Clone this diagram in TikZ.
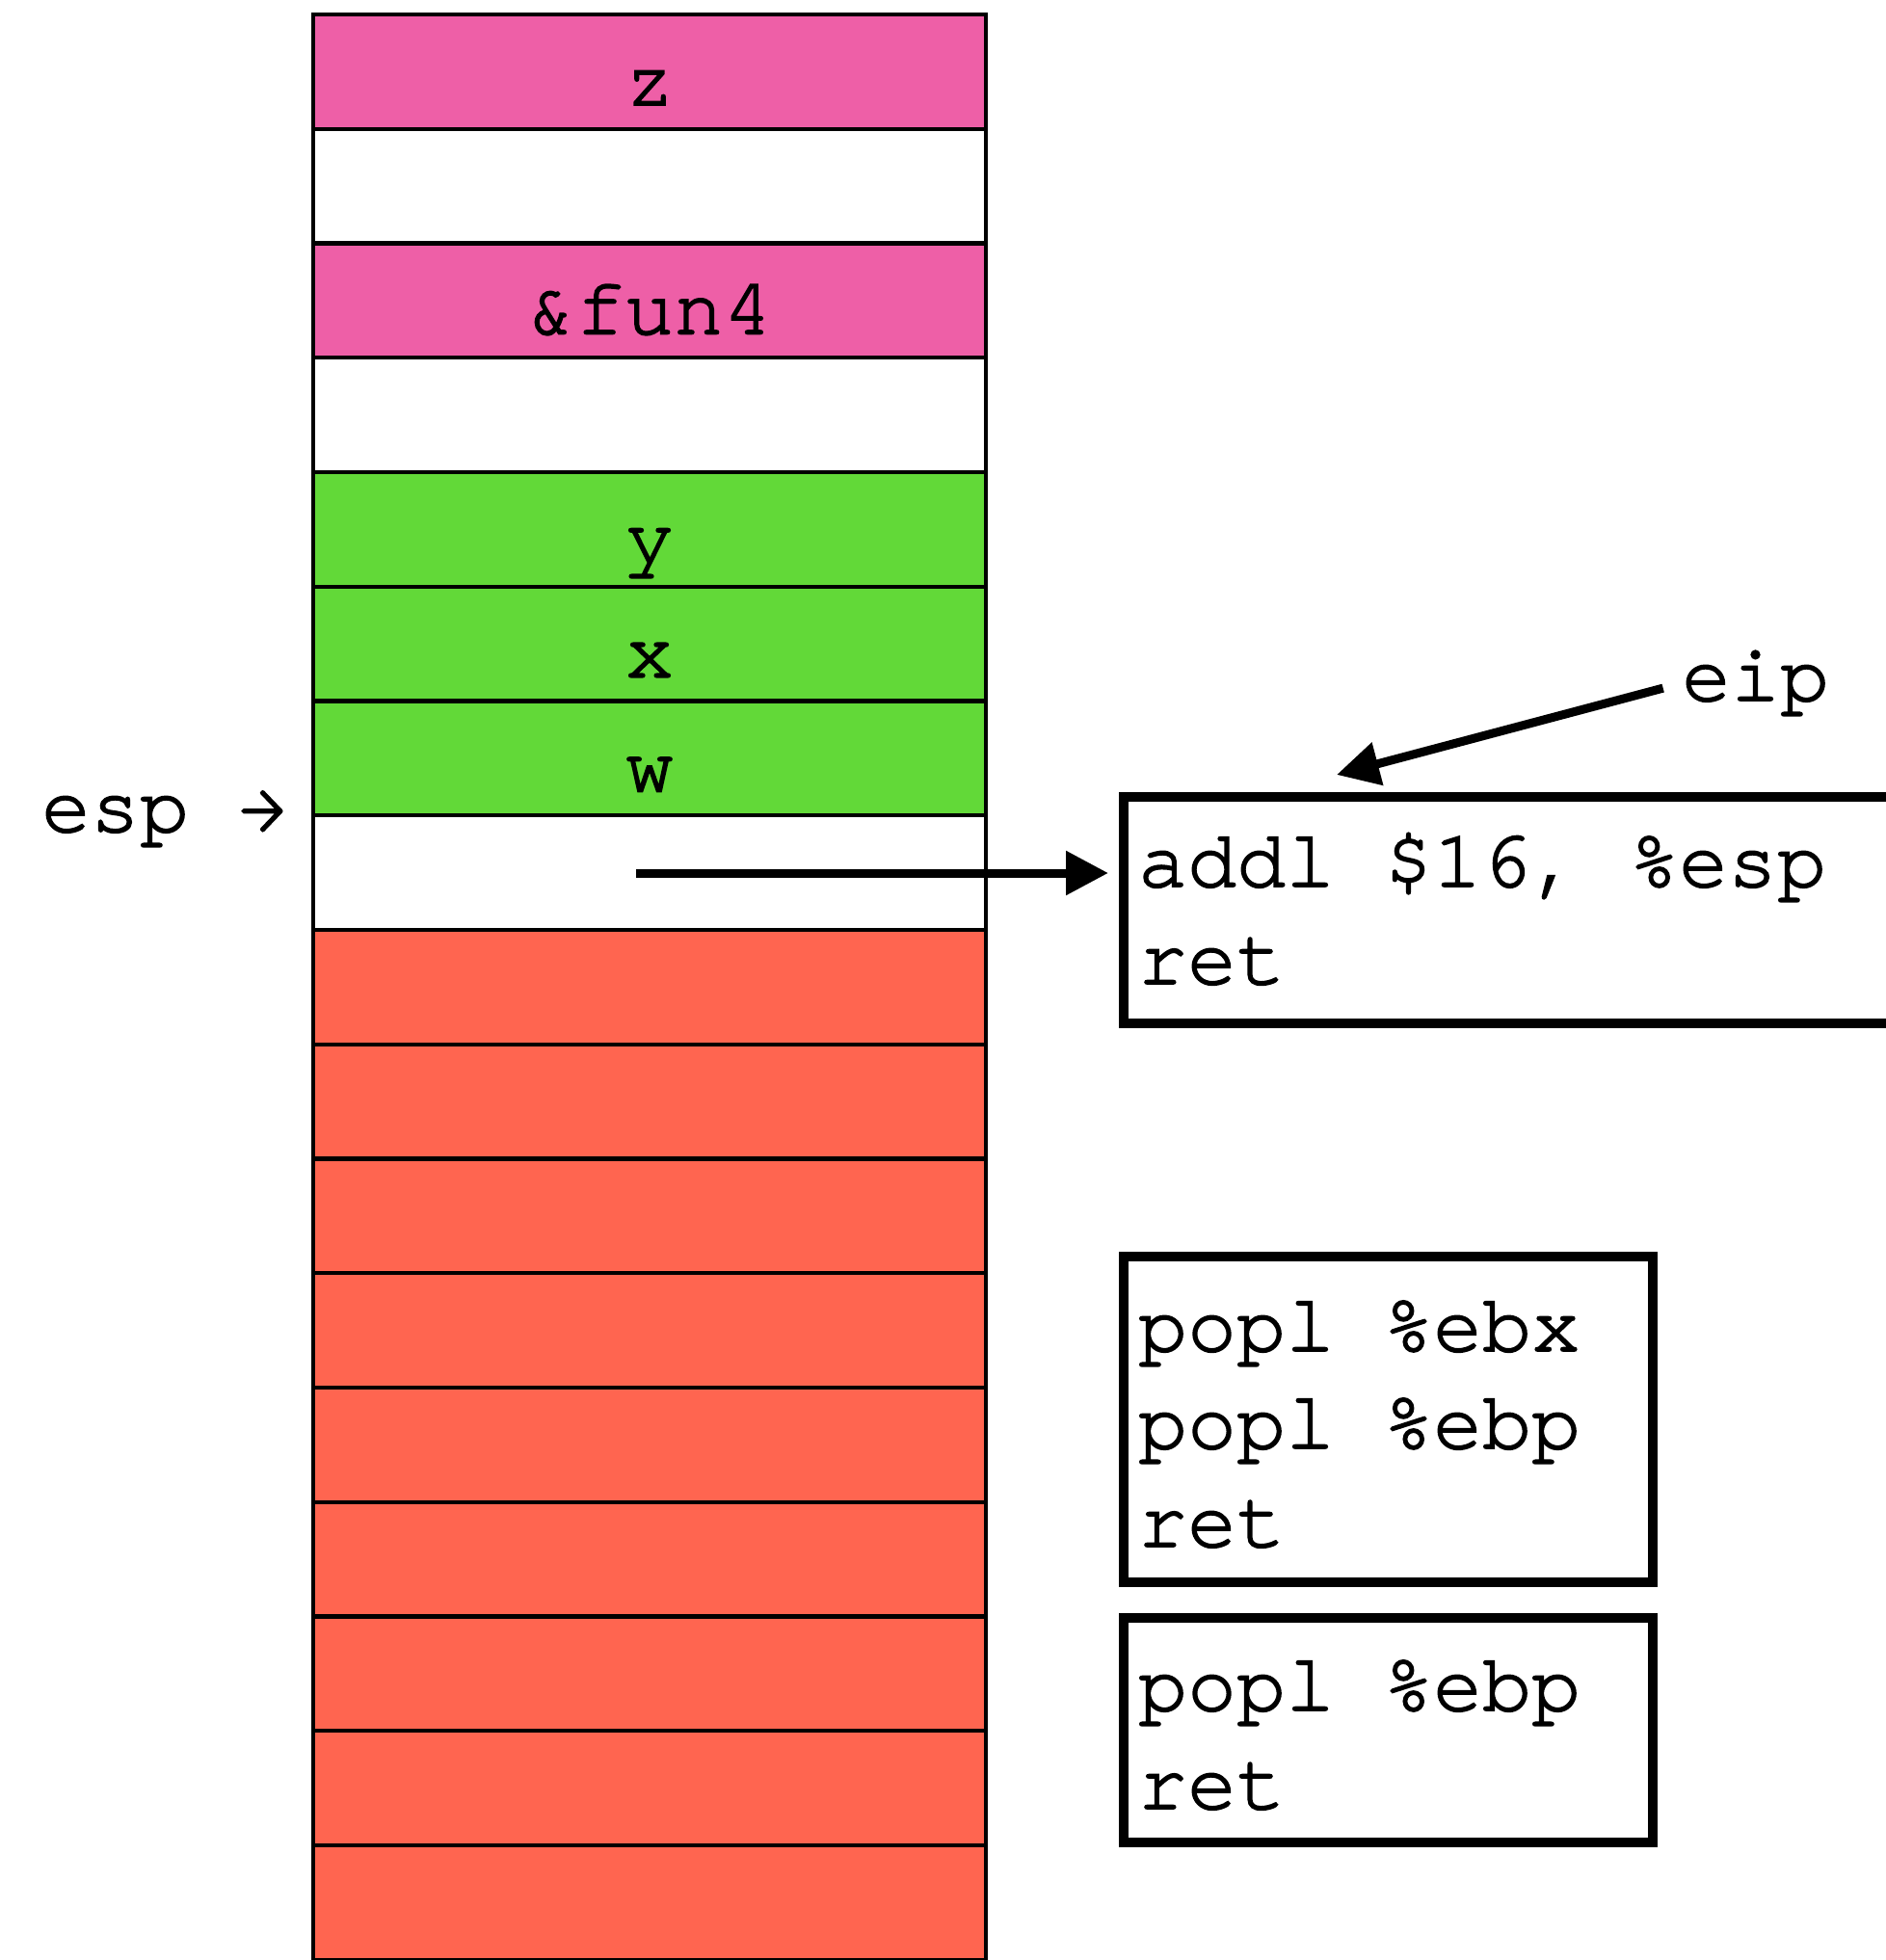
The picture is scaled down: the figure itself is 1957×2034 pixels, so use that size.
\documentclass[tikz,border=0pt]{standalone}
\usepackage{fontspec}
\setmonofont{TeX Gyre Cursor}[FakeBold=2]
\usetikzlibrary{arrows.meta}
\definecolor{slotpink}{HTML}{EE5FA7}
\definecolor{slotgreen}{HTML}{62D938}
\definecolor{slotred}{HTML}{FF6550}

\begin{document}
\begin{tikzpicture}[x=0.5pt,y=-0.5pt,
  slot/.style={draw=black, line width=2.2pt, minimum width=349pt, minimum height=59.375pt,
    inner sep=0pt, outer sep=0pt, anchor=north west},
  mono/.style={font=\ttfamily\fontsize{42.5}{51}\selectfont, inner sep=0pt, outer sep=0pt},
  slotlabel/.style={mono, anchor=base, yshift=-47pt},
  codeline/.style={mono, anchor=base west},
  codebox/.style={draw=black, line width=5pt, inner sep=0pt, outer sep=0pt, anchor=north west},
  pointer/.style={line width=4.5pt, -{Triangle[length=22pt,width=22pt]}},
]
\useasboundingbox (0,0) rectangle (1957,2034);

% stack slots, top to bottom
\foreach \c [count=\i from 0] in {slotpink,white,slotpink,white,slotgreen,slotgreen,slotgreen,white,
    slotred,slotred,slotred,slotred,slotred,slotred,slotred,slotred,slotred}
  \node[slot, fill=\c] (s\i) at (325,{15+118.75*\i}) {};

% slot contents
\node[slotlabel] (lz) at (s0.north) {z};
\node[slotlabel] (lfun) at (s2.north) {\&fun4};
\node[slotlabel] (ly) at (s4.north) {y};
\node[slotlabel] (lx) at (s5.north) {x};
\node[slotlabel] (lw) at (s6.north) {w};

% stack pointer
\node[codeline] (esp) at (43,863) {esp →};

% code fragments
\node[codebox, minimum width=450pt, minimum height=117.5pt] (boxA) at (1166,827) {};
\node[codeline] (a1) at (1181,920) {addl \$16, \%esp};
\node[codeline] (a2) at (1181,1021) {ret};

\node[codebox, minimum width=274.5pt, minimum height=169pt] (boxB) at (1166,1304) {};
\node[codeline] (b1) at (1181,1402) {popl \%ebx};
\node[codeline] (b2) at (1181,1503) {popl \%ebp};
\node[codeline] (b3) at (1181,1605) {ret};

\node[codebox, minimum width=274.5pt, minimum height=116.5pt] (boxC) at (1166,1679) {};
\node[codeline] (c1) at (1181,1775) {popl \%ebp};
\node[codeline] (c2) at (1181,1877) {ret};

% return address points into the code
\coordinate (ra) at (660,906);
\draw[pointer, shorten >=8pt] (ra) -- (ra -| boxA.west);

% instruction pointer
\node[codeline] (eip) at (1745,727) {eip};
\coordinate (eiptip) at (1387,804);
\draw[pointer, shorten <=10pt] (eip.west) -- (eiptip);
\end{tikzpicture}
\end{document}
